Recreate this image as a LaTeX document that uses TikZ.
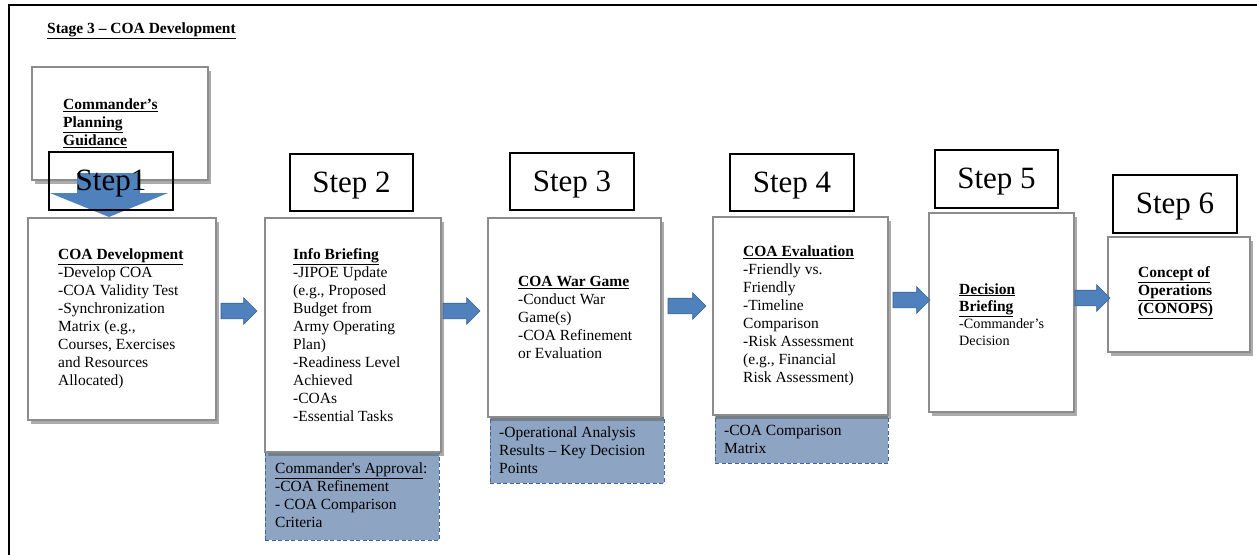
\documentclass[tikz,border=0pt]{standalone}
\usepackage{fontspec}
\setmainfont{Liberation Serif}
\usetikzlibrary{shapes.arrows,shadows}

\definecolor{boxgray}{HTML}{8C8C8C}
\definecolor{arrowblue}{HTML}{4F81BD}
\definecolor{arrowedge}{HTML}{3A6394}
\definecolor{notefill}{HTML}{8EA4C3}
\definecolor{noteedge}{HTML}{3B64A0}

\newcommand\bodyfont{\fontsize{15.5pt}{18pt}\selectfont}
\newcommand\smallbodyfont{\fontsize{14.2pt}{17.2pt}\selectfont}
\newcommand\stepfont{\fontsize{31pt}{36pt}\selectfont}
\newcommand\heading[1]{\underline{\textbf{#1}}}

\tikzset{
  mainbox/.style={draw=boxgray, line width=2pt, fill=white, anchor=north west,
    outer sep=0pt, inner sep=0pt,
    drop shadow={shadow xshift=3pt, shadow yshift=-3.5pt, fill=black!65, opacity=0.5}},
  stepbox/.style={draw=black, line width=2pt, anchor=north west, outer sep=0pt,
    inner sep=0pt},
  steplabel/.style={font=\stepfont, inner sep=0pt},
  notebox/.style={draw=noteedge, line width=1pt, dash pattern=on 4pt off 2.5pt,
    fill=notefill, anchor=north west, outer sep=0pt, inner sep=0pt},
  boxtext/.style={anchor=west, align=left, font=\bodyfont, inner sep=0pt},
  rightarrow/.style={single arrow, draw=arrowedge, fill=arrowblue, line width=0.6pt,
    anchor=tail, inner xsep=0pt, inner ysep=7.5pt, minimum width=26pt,
    single arrow head extend=5.5pt, single arrow tip angle=90,
    single arrow head indent=0pt, outer sep=0pt},
}

\begin{document}
\begin{tikzpicture}[x=1pt,y=-1pt]
  % page
  \fill[white] (0,0) rectangle (1257,554);
  \useasboundingbox (0,0) rectangle (1257,554);
  \draw[line width=2pt] (9,555) -- (9,5) -- (1258,5);

  % title
  \node[anchor=base west, font=\bodyfont, inner sep=0pt] (title) at (47,33)
    {\heading{Stage 3 – COA Development}};

  % planning guidance
  \node[mainbox, minimum width=176pt, minimum height=113pt] (cpg) at (32,67) {};
  \node[boxtext] (cpgtext) at ([xshift=31pt]cpg.west)
    {\heading{Commander’s}\\\heading{Planning}\\\heading{Guidance}};

  % notes under steps 2--4
  \node[notebox, minimum width=174pt, minimum height=88pt] (n2) at (265,452) {};
  \node[boxtext] (n2text) at ([xshift=10pt,yshift=1pt]n2.west)
    {\underline{Commander\textquotesingle s Approval}:\\-COA Refinement\\- COA Comparison\\Criteria};
  \node[notebox, minimum width=174pt, minimum height=66pt] (n3) at (490,417) {};
  \node[boxtext] (n3text) at ([xshift=9pt]n3.west)
    {-Operational Analysis\\Results – Key Decision\\Points};
  \node[notebox, minimum width=173pt, minimum height=48pt] (n4) at (715,415) {};
  \node[boxtext] (n4text) at ([xshift=9pt]n4.west)
    {-COA Comparison\\Matrix};

  % step boxes
  \node[mainbox, minimum width=188pt, minimum height=202pt] (b1) at (28,218) {};
  \node[boxtext] (b1text) at ([xshift=30pt]b1.west)
    {\heading{COA Development}\\-Develop COA\\-COA Validity Test\\-Synchronization\\Matrix (e.g.,\\Courses, Exercises\\and Resources\\Allocated)};

  \node[mainbox, minimum width=176pt, minimum height=234pt] (b2) at (265,218) {};
  \node[boxtext] (b2text) at ([xshift=28pt]b2.west)
    {\heading{Info Briefing}\\-JIPOE Update\\(e.g., Proposed\\Budget from\\Army Operating\\Plan)\\-Readiness Level\\Achieved\\-COAs\\-Essential Tasks};

  \node[mainbox, minimum width=173pt, minimum height=199pt] (b3) at (488,218) {};
  \node[boxtext] (b3text) at ([xshift=30pt]b3.west)
    {\heading{COA War Game}\\-Conduct War\\Game(s)\\-COA Refinement\\or Evaluation};

  \node[mainbox, minimum width=175pt, minimum height=198pt] (b4) at (713,217) {};
  \node[boxtext] (b4text) at ([xshift=30pt]b4.west)
    {\heading{COA Evaluation}\\-Friendly vs.\\Friendly\\-Timeline\\Comparison\\-Risk Assessment\\(e.g., Financial\\Risk Assessment)};

  \node[mainbox, minimum width=145pt, minimum height=199pt] (b5) at (929,213) {};
  \node[boxtext, font=\smallbodyfont] (b5text) at ([xshift=30pt,yshift=-2pt]b5.west)
    {{\bodyfont\heading{Decision}}\\{\bodyfont\heading{Briefing}}\\-Commander’s\\Decision};

  \node[mainbox, minimum width=142pt, minimum height=115pt] (b6) at (1108,237) {};
  \node[boxtext] (b6text) at ([xshift=30pt,yshift=2pt]b6.west)
    {\heading{Concept of}\\\heading{Operations}\\\heading{(CONOPS)}};

  % down arrow from the guidance into step 1
  \fill[arrowblue] (77,173) -- (140,173) -- (140,193) -- (168,193) -- (109,217)
    -- (50,193) -- (77,193) -- cycle;

  % step labels
  \node[stepbox, minimum width=124pt, minimum height=58pt] (s1) at (49,152) {};
  \node[steplabel] at ([yshift=-3pt]s1.center) {Step1};
  \node[stepbox, minimum width=123pt, minimum height=57pt] (s2) at (290,154) {};
  \node[steplabel] at ([yshift=-3pt]s2.center) {Step 2};
  \node[stepbox, minimum width=124pt, minimum height=57pt] (s3) at (510,153) {};
  \node[steplabel] at ([yshift=-3pt]s3.center) {Step 3};
  \node[stepbox, minimum width=124pt, minimum height=57pt] (s4) at (730,154) {};
  \node[steplabel] at ([yshift=-3pt]s4.center) {Step 4};
  \node[stepbox, minimum width=123pt, minimum height=58pt] (s5) at (935,150) {};
  \node[steplabel] at ([yshift=-3pt]s5.center) {Step 5};
  \node[stepbox, minimum width=124pt, minimum height=58pt] (s6) at (1113,175) {};
  \node[steplabel] at ([yshift=-3pt]s6.center) {Step 6};

  % block arrows between steps
  \node[rightarrow, minimum height=36pt] (a1) at (221,311) {};
  \node[rightarrow, minimum height=37pt] (a2) at (443,311) {};
  \node[rightarrow, minimum height=38pt] (a3) at (668,306) {};
  \node[rightarrow, minimum height=37pt] (a4) at (893,300) {};
  \node[rightarrow, minimum height=35pt] (a5) at (1075,298) {};
\end{tikzpicture}
\end{document}
